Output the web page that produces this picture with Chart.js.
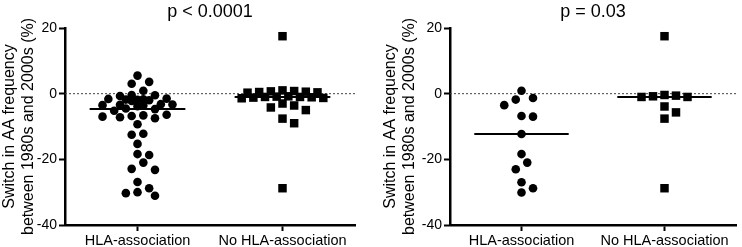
<!DOCTYPE html>
<html>
<head>
<meta charset="utf-8">
<script src="https://cdn.jsdelivr.net/npm/chart.js@4"></script>
<style>
  html, body { margin: 0; padding: 0; background: #fff; }
  #wrap { position: relative; width: 742px; height: 247px; }
  canvas { position: absolute; top: 0; }
  #left { left: 0; }
  #right { left: 381px; }
</style>
</head>
<body>
<div id="wrap">
  <canvas id="left" width="372" height="247"></canvas>
  <canvas id="right" width="361" height="247"></canvas>
</div>
<script>
const categories = ['HLA-association', 'No HLA-association'];
const yTicks = [20, 0, -20, -40];
const yTitle = ['Switch in AA frequency', 'between 1980s and 2000s (%)'];

// panel 1
const leftTitle = 'p < 0.0001';
const leftHla = [5.5, 3.6, 3.0, 0.9, -0.4, -0.5, -0.7, -1.5, -1.6, -1.7, -1.8, -1.9, -2.0, -2.2,
  -3.2, -3.3, -3.4, -3.5, -3.6, -3.8, -4.5, -4.7, -5.2, -6.4, -6.6, -6.8, -7.0, -7.2, -7.5,
  -9.3, -12.2, -12.5, -15.3, -18.4, -18.7, -21.0, -22.9, -23.2, -26.9, -28.8, -30.0, -30.3, -31.1];
const leftNoHla = [17.5, 1.0, 0.8, 0.7, 0.6, 0.5, 0.4, 0.3, -0.8, -0.9, -1.0, -1.0, -1.1, -1.2,
  -1.3, -1.4, -3.0, -3.6, -4.2, -5.0, -7.6, -9.0, -28.8];

// panel 2
const rightTitle = 'p = 0.03';
const rightHla = [0.9, -1.3, -1.8, -3.5, -6.8, -7.0, -12.3, -18.4, -21.0, -23.0, -27.0, -28.8, -30.1];
const rightNoHla = [17.5, -0.4, -0.6, -0.8, -1.0, -1.0, -3.9, -5.7, -7.6, -28.8];

function median(arr) {
  const s = [...arr].sort((a, b) => a - b);
  const m = Math.floor(s.length / 2);
  return s.length % 2 ? s[m] : (s[m - 1] + s[m]) / 2;
}

// beeswarm in rough pixel units; width is capped, overlap allowed when crowded
function swarm(values, center, kmax) {
  const pxX = 145.5, pxY = 3.275, d = 9.5, step = 5.85;
  const placed = [];
  [...values].sort((a, b) => b - a).forEach(v => {
    let best = null, bestDist = -1;
    for (let i = 0; i <= 2 * kmax; i++) {
      const k = i === 0 ? 0 : (i % 2 ? Math.ceil(i / 2) : -i / 2);
      const dx = k * step;
      let minD = Infinity;
      placed.forEach(p => {
        minD = Math.min(minD, Math.hypot(p.dx - dx, (p.v - v) * pxY));
      });
      if (minD >= d) { best = dx; break; }
      if (minD > bestDist + 0.5) { bestDist = minD; best = dx; }
    }
    placed.push({ dx: best, v: v });
  });
  return placed.map(p => ({ x: center + p.dx / pxX, y: p.v }));
}

function medianLine(values, center) {
  const m = median(values);
  return {
    type: 'line',
    data: [{ x: center - 0.33, y: m }, { x: center + 0.33, y: m }],
    borderColor: '#000',
    borderWidth: 2,
    pointRadius: 0,
    order: 0
  };
}

function makeChart(id, title, hla, noHla, axisWidth, padRight) {
  const ctx = document.getElementById(id).getContext('2d');
  return new Chart(ctx, {
    data: {
      datasets: [
        {
          type: 'line',
          data: [{ x: -0.5, y: 0 }, { x: 1.5, y: 0 }],
          borderColor: '#444',
          borderWidth: 1,
          borderDash: [2, 2],
          pointRadius: 0,
          order: 10
        },
        {
          type: 'scatter',
          data: swarm(hla, 0, 6),
          pointStyle: 'circle',
          pointRadius: 4.3,
          backgroundColor: '#000',
          borderWidth: 0,
          order: 1
        },
        {
          type: 'scatter',
          data: swarm(noHla, 1, 7),
          pointStyle: 'rect',
          pointRadius: 6,
          backgroundColor: '#000',
          borderWidth: 0,
          order: 1
        },
        medianLine(hla, 0),
        medianLine(noHla, 1)
      ]
    },
    options: {
      responsive: false,
      animation: false,
      layout: { padding: { top: 0, right: padRight, bottom: 0, left: 0 } },
      plugins: {
        legend: { display: false },
        tooltip: { enabled: false },
        title: {
          display: true,
          text: title,
          fullSize: false,
          color: '#000',
          font: { family: 'Liberation Sans', size: 18, weight: 'normal' },
          padding: { top: 1, bottom: 5.4 }
        }
      },
      scales: {
        x: {
          type: 'linear',
          min: -0.5,
          max: 1.5,
          afterBuildTicks: s => { s.ticks = categories.map((c, i) => ({ value: i })); },
          afterFit: s => { s.height = 22; },
          ticks: {
            callback: v => categories[v],
            color: '#000',
            padding: 1,
            font: { family: 'Liberation Sans', size: 14.5 }
          },
          grid: { drawOnChartArea: false, drawTicks: true, tickLength: 6, tickColor: '#000', tickWidth: 2 },
          border: { display: true, color: '#000', width: 2.5 }
        },
        y: {
          min: -40,
          max: 20,
          afterBuildTicks: s => { s.ticks = yTicks.map(v => ({ value: v })); },
          afterFit: s => { s.width = axisWidth; },
          ticks: {
            color: '#000',
            padding: 2,
            font: { family: 'Liberation Sans', size: 14 }
          },
          title: {
            display: true,
            text: yTitle,
            color: '#000',
            padding: { top: 0, bottom: 0 },
            font: { family: 'Liberation Sans', size: 16 }
          },
          grid: { drawOnChartArea: false, drawTicks: true, tickLength: 6, tickColor: '#000', tickWidth: 2 },
          border: { display: true, color: '#000', width: 2.5 }
        }
      }
    }
  });
}

makeChart('left', leftTitle, leftHla, leftNoHla, 65, 17);
makeChart('right', rightTitle, rightHla, rightNoHla, 69, 2);
</script>
</body>
</html>
